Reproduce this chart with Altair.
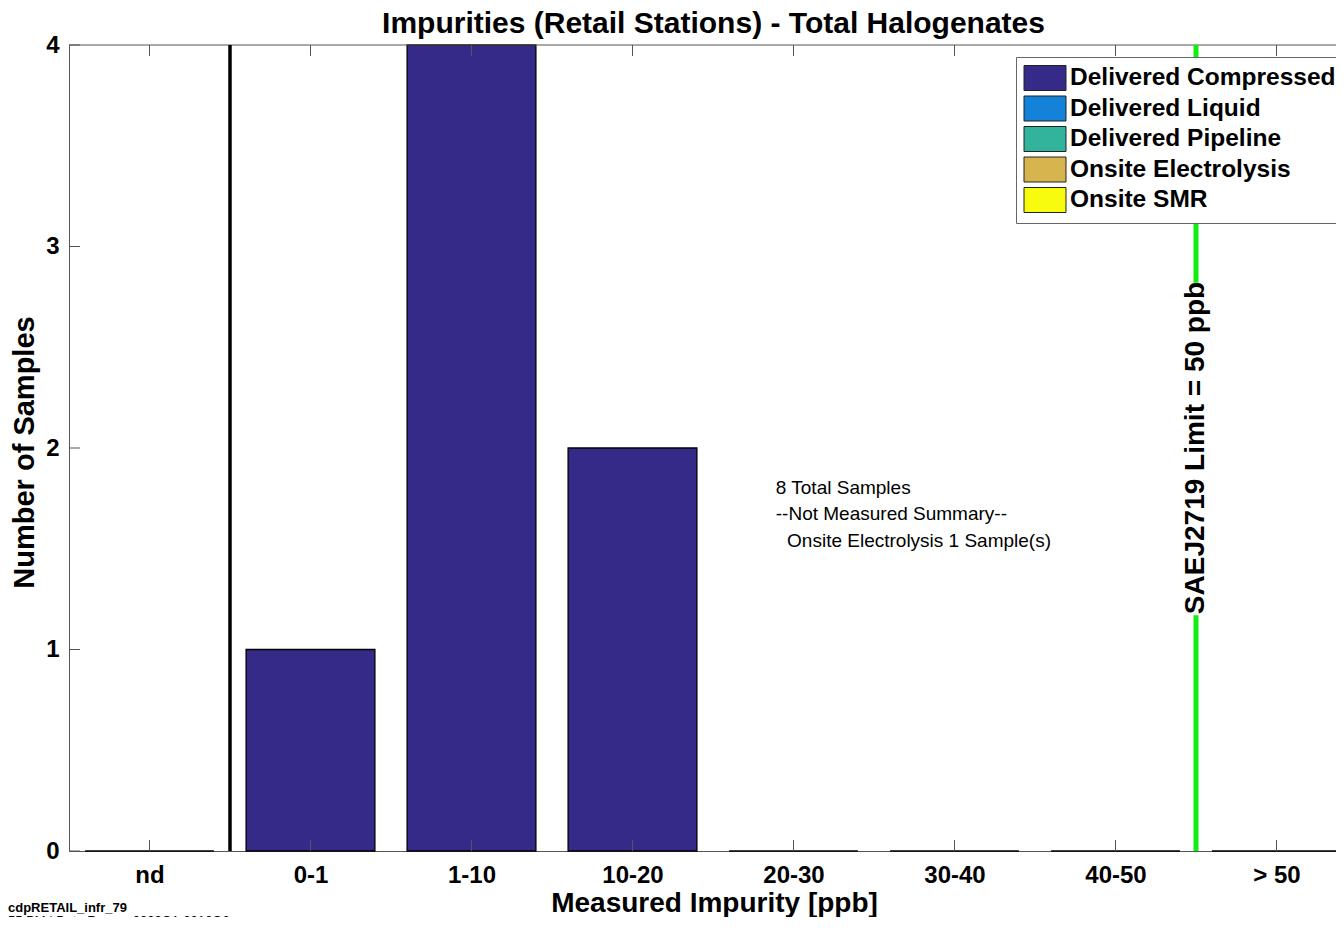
import altair as alt
import pandas as pd

# ---------------- data ----------------
categories = ["nd", "0-1", "1-10", "10-20", "20-30", "30-40", "40-50", "> 50"]
counts = [0, 1, 4, 2, 0, 0, 0, 0]
bar_source = "Delivered Compressed"

sources = ["Delivered Compressed", "Delivered Liquid", "Delivered Pipeline",
           "Onsite Electrolysis", "Onsite SMR"]
source_colors = ["#352a87", "#1582d9", "#31b49b", "#d7b54e", "#f9fb0e"]

y_ticks = [0, 1, 2, 3, 4]
nd_separator = [1.5]          # boundary between "nd" and "0-1"
limit_position = 7.5          # boundary between "40-50" and "> 50"
limit_label = "SAEJ2719 Limit = 50 ppb"
limit_segments_lo = [0.0, 2.82]
limit_segments_hi = [1.17, 4.0]
limit_label_y = 2.0

note_lines = ["8 Total Samples", "--Not Measured Summary--", "Onsite Electrolysis 1 Sample(s)"]
note_x = [4.89, 4.89, 4.96]
note_y = [1.80, 1.67, 1.54]

footer_lines = ["cdpRETAIL_infr_79", "55 PM | Data Range: 0000Q1-2016Q3"]

title_text = "Impurities (Retail Stations) - Total Halogenates"
x_title = "Measured Impurity [ppb]"
y_title = "Number of Samples"

# ---------------- layout / style ----------------
FONT = "Liberation Sans, Arial, Helvetica, sans-serif"
FRAME = "#555555"
GREEN = "#11ee11"
W = 1267
H = 806
PX_PER_CAT = 161.0

positions = list(range(1, len(categories) + 1))
df_bars = pd.DataFrame({"pos": positions, "count": counts,
                        "source": [bar_source] * len(categories)})

xscale = alt.Scale(domain=[0.5, 0.5 + W / PX_PER_CAT], nice=False, zero=False)
yscale = alt.Scale(domain=[0, 4], nice=False)

label_expr = "''"
for i in range(len(categories), 0, -1):
    label_expr = f"datum.value == {i} ? '{categories[i - 1]}' : ({label_expr})"

x_axis = alt.Axis(values=positions, labelExpr=label_expr, title=x_title,
                  labelBaseline="alphabetic", labelPadding=31,
                  titleX=645, titleY=60, titleAlign="center", titleFontSize=28,
                  titleBaseline="alphabetic")
y_axis = alt.Axis(values=y_ticks, format="d", title=y_title, labelPadding=10,
                  titleX=-36, titleY=407, titleAlign="center",
                  titleBaseline="alphabetic")

legend = alt.Legend(
    title=None, orient="none", legendX=947, legendY=12, direction="vertical",
    symbolType="M-1.68,-1H1.68V1H-1.68Z", symbolSize=625, symbolOffset=8,
    symbolStrokeColor="#222222", symbolStrokeWidth=1, symbolOpacity=1,
    labelFont=FONT, labelFontSize=24.5, labelFontWeight="bold", labelColor="black",
    labelOffset=12, labelLimit=500, padding=8, rowPadding=0.5,
    fillColor="white", strokeColor="#666666",
)

bars = alt.Chart(df_bars).transform_calculate(
    lo="datum.pos - 0.4", hi="datum.pos + 0.4", base="0"
).mark_bar(stroke="black", strokeWidth=1.3).encode(
    x=alt.X("lo:Q", scale=xscale, axis=x_axis),
    x2="hi:Q",
    y=alt.Y("count:Q", scale=yscale, axis=y_axis),
    y2="base:Q",
    color=alt.Color("source:N", scale=alt.Scale(domain=sources, range=source_colors),
                    legend=legend),
)

top_frame = alt.Chart(pd.DataFrame({"k": [0]})).mark_rule(color=FRAME, strokeWidth=1).encode(
    x=alt.value(0), x2=alt.value(W), y=alt.value(0)
)

df_ticks = pd.DataFrame({"pos": positions})
top_ticks = alt.Chart(df_ticks).mark_rule(color=FRAME, strokeWidth=1).encode(
    x=alt.X("pos:Q", scale=xscale), y=alt.value(0), y2=alt.value(11)
)
bottom_ticks = alt.Chart(df_ticks).mark_rule(color=FRAME, strokeWidth=1).encode(
    x=alt.X("pos:Q", scale=xscale), y=alt.value(H - 11), y2=alt.value(H)
)
left_ticks = alt.Chart(pd.DataFrame({"v": y_ticks})).mark_rule(color=FRAME, strokeWidth=1).encode(
    y=alt.Y("v:Q", scale=yscale), x=alt.value(0), x2=alt.value(11)
)

nd_rule = alt.Chart(pd.DataFrame({"pos": nd_separator})).mark_rule(
    color="black", strokeWidth=3.5).encode(
    x=alt.X("pos:Q", scale=xscale), y=alt.value(0), y2=alt.value(H)
)

df_limit = pd.DataFrame({"pos": [limit_position] * len(limit_segments_lo),
                         "lo": limit_segments_lo, "hi": limit_segments_hi})
limit_rule = alt.Chart(df_limit).mark_rule(color=GREEN, strokeWidth=5).encode(
    x=alt.X("pos:Q", scale=xscale),
    y=alt.Y("lo:Q", scale=yscale), y2="hi:Q",
)
limit_text = alt.Chart(pd.DataFrame({"pos": [limit_position], "y": [limit_label_y],
                                     "t": [limit_label]})).mark_text(
    angle=270, font=FONT, fontSize=28, fontWeight="bold", color="black",
    align="center", baseline="middle",
).encode(
    x=alt.X("pos:Q", scale=xscale),
    y=alt.Y("y:Q", scale=yscale), text="t:N",
)

notes = alt.Chart(pd.DataFrame({"x": note_x, "y": note_y, "t": note_lines})).mark_text(
    font=FONT, fontSize=19, color="black", align="left", baseline="middle"
).encode(
    x=alt.X("x:Q", scale=xscale),
    y=alt.Y("y:Q", scale=yscale), text="t:N",
)

footer1 = alt.Chart(pd.DataFrame({"t": [footer_lines[0]]})).mark_text(
    font=FONT, fontSize=13, fontWeight="bold", color="black", align="left",
    baseline="alphabetic"
).encode(x=alt.value(-61), y=alt.value(867), text="t:N")
footer2 = alt.Chart(pd.DataFrame({"t": [footer_lines[1]]})).mark_text(
    font=FONT, fontSize=13, color="black", align="left", baseline="alphabetic"
).encode(x=alt.value(-61), y=alt.value(880), text="t:N")

chart = alt.layer(
    bars, top_frame, top_ticks, bottom_ticks, left_ticks, nd_rule,
    limit_rule, limit_text, notes, footer1, footer2,
).properties(
    width=W, height=H,
    title=alt.TitleParams(title_text, font=FONT, fontSize=30, fontWeight="bold",
                          color="black", anchor="middle", dx=11, offset=-6),
    autosize=alt.AutoSizeParams(type="none"),
    padding={"left": 61, "top": 37, "right": 0, "bottom": 66},
    background="white",
).configure_view(
    stroke=None
).configure_axis(
    ticks=False, grid=False, domainColor=FRAME, domainWidth=1,
    labelFont=FONT, labelFontSize=24, labelFontWeight="bold", labelColor="black",
    labelFlush=False, labelOverlap=False,
    titleFont=FONT, titleFontSize=29, titleFontWeight="bold", titleColor="black",
)

chart.save("out.html", embed_options={"renderer": "svg", "actions": False})
